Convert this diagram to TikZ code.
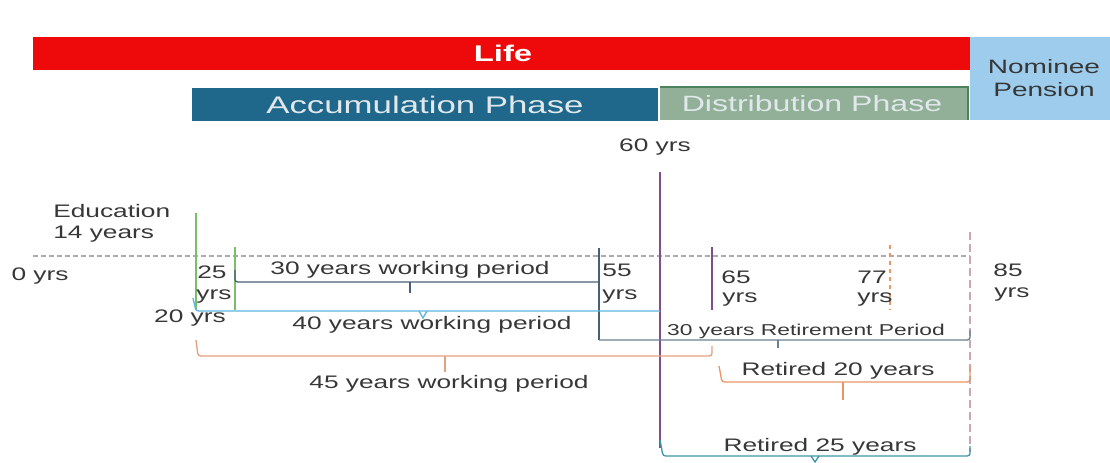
\documentclass[tikz,border=0pt]{standalone}
\usepackage{fontspec}
\setmainfont{Liberation Sans}[FakeStretch=1.45]
\definecolor{lifered}{RGB}{238,10,10}
\definecolor{accblue}{RGB}{31,104,140}
\definecolor{distgreen}{RGB}{146,176,152}
\definecolor{distedge}{RGB}{78,130,92}
\definecolor{nomblue}{RGB}{158,204,236}
\definecolor{txtgray}{RGB}{55,55,55}
\definecolor{lightTxt}{RGB}{225,232,236}
\definecolor{purpleln}{RGB}{128,78,140}
\definecolor{greenln}{RGB}{122,190,104}
\definecolor{skyln}{RGB}{92,182,222}
\definecolor{slateln}{RGB}{70,96,118}
\definecolor{salmonln}{RGB}{228,160,130}
\definecolor{orangeln}{RGB}{232,150,100}
\definecolor{tealln}{RGB}{62,150,170}
\definecolor{pinkln}{RGB}{200,168,180}
\definecolor{axisln}{RGB}{170,170,180}
\begin{document}
\begin{tikzpicture}[x=0.75pt,y=-0.75pt,
  txt/.style={text=txtgray, inner sep=0pt, font=\fontsize{13.6}{16}\selectfont},
  smalltxt/.style={text=txtgray, inner sep=0pt, font=\fontsize{11.8}{13.5}\selectfont},
  bartxt/.style={inner sep=0pt, font=\fontsize{18}{21}\selectfont},
  brk/.style={line width=1pt, rounded corners=2pt},
  tick/.style={line width=1pt}]
\useasboundingbox (0,0) rectangle (1110,462);
% bars
\fill[lifered] (33,37) rectangle (972,70);
\fill[accblue] (192,88) rectangle (658,121);
\fill[distgreen] (660,87) rectangle (968,120);
\draw[distedge, line width=1.2pt] (660,87) -- (968,87) -- (968,120);
\fill[nomblue] (970,37) rectangle (1110,120);
\node[bartxt, text=white, font=\bfseries\fontsize{17}{20}\selectfont] (life) at (503,53) {Life};
\node[bartxt, text=lightTxt] (acc) at (425,105) {Accumulation Phase};
\node[bartxt, text=lightTxt, font=\fontsize{16.6}{19}\selectfont] (dist) at (812,104) {Distribution Phase};
\node[txt, align=center, font=\fontsize{14.5}{17}\selectfont] (nom) at (1044,78) {Nominee\\Pension};
% axis
\coordinate (ax0) at (33,256);
\coordinate (ax85) at (970,256);
\draw[axisln, dashed, line width=1pt, dash pattern=on 4pt off 2pt] (ax0) -- (ax85);
% vertical markers
\draw[greenln, line width=1pt] (196,213) -- (196,310);
\draw[greenln, line width=1pt] (235,247) -- (235,310);
\draw[slateln, line width=1pt] (599,248) -- (599,340);
\draw[purpleln, line width=1.2pt] (660,172) -- (660,448);
\draw[purpleln, line width=1pt] (712,247) -- (712,310);
\draw[orangeln, line width=1pt, dashed] (890,245) -- (890,310);
\draw[pinkln, line width=1pt, dash pattern=on 6pt off 3pt] (970,232) -- (970,452);
% labels
\node[txt] (t60) at (655,147) {60 yrs};
\node[txt, align=left, anchor=west] (edu) at (53,223) {Education\\14 years};
\node[txt] (t0) at (40,276) {0 yrs};
\node[txt] (t25) at (212,272) {25};
\node[txt] (t25y) at (214,296) {yrs};
\node[txt] (t20) at (190,318) {20 yrs};
\node[txt] (t55) at (617,270) {55};
\node[txt] (t55y) at (620,296) {yrs};
\node[txt] (t65) at (736,277) {65};
\node[txt] (t65y) at (740,299) {yrs};
\node[txt] (t77) at (872,277) {77};
\node[txt] (t77y) at (875,299) {yrs};
\node[txt] (t85) at (1008,270) {85};
\node[txt] (t85y) at (1012,294) {yrs};
\node[txt] (w30) at (410,270) {30 years working period};
\node[txt] (w40) at (432,325) {40 years working period};
\node[txt] (w45) at (449,384) {45 years working period};
\node[smalltxt] (r30) at (806,331) {30 years Retirement Period};
\node[txt] (r20) at (838,371) {Retired 20 years};
\node[txt] (r25) at (820,447) {Retired 25 years};
% brackets
\draw[slateln, brk] (235,270) -- (235,282) -- (599,282);
\draw[slateln, tick] (410,282) -- (410,293);
\draw[skyln, brk] (193,298) -- (196,311) -- (660,311);
\draw[skyln, tick] (419,311) -- (423,318) -- (427,311);
\draw[salmonln, brk] (196,340) -- (198,356) -- (712,356) -- (712,346);
\draw[salmonln, tick] (445,356) -- (445,372);
\draw[slateln!80, brk] (599,340) -- (970,340) -- (970,330);
\draw[slateln!80, tick] (778,340) -- (778,348);
\draw[orangeln, brk] (719,366) -- (722,382) -- (970,382) -- (970,366);
\draw[orangeln, tick] (843,382) -- (843,400);
\draw[tealln, brk] (660,440) -- (663,456) -- (970,456) -- (970,446);
\draw[tealln, tick] (811,456) -- (815,462) -- (819,456);
\end{tikzpicture}
\end{document}
